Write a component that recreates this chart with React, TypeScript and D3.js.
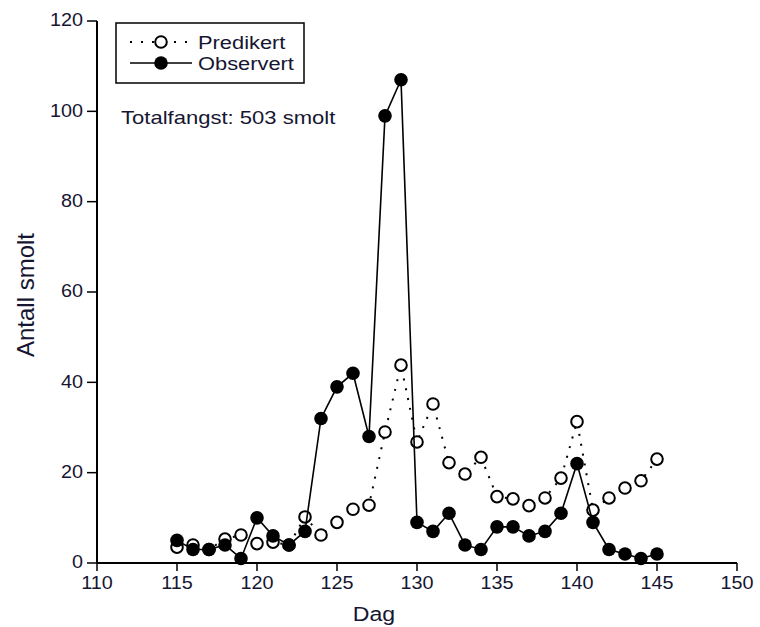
import React from "react";
import * as d3 from "d3";

const days = [115,116,117,118,119,120,121,122,123,124,125,126,127,128,129,130,131,132,133,134,135,136,137,138,139,140,141,142,143,144,145];
const observert = [5,3,3,4,1,10,6,4,7,32,39,42,28,99,107,9,7,11,4,3,8,8,6,7,11,22,9,3,2,1,2];
const predikert = [3.5,4,3,5.3,6.2,4.3,4.6,4,10.2,6.2,9,11.9,12.8,29,43.8,26.8,35.2,22.2,19.7,23.4,14.7,14.2,12.7,14.4,18.8,31.3,11.7,14.4,16.6,18.2,23];
const xTicks = [110,115,120,125,130,135,140,145,150];
const yTicks = [0,20,40,60,80,100,120];

const W = 760, H = 627;
const FONT = "Liberation Sans, Arial, sans-serif";
const TXT = "#161632";

function T({ x, y, size, sx = 1.12, anchor = "start", children }: any) {
  return (
    <text transform={`translate(${x},${y}) scale(${sx},1)`} dy="0.35em" textAnchor={anchor} fontSize={size} fill={TXT}>
      {children}
    </text>
  );
}

export default function App() {
  const x = d3.scaleLinear().domain([110, 150]).range([97, 737]);
  const y = d3.scaleLinear().domain([0, 120]).range([563, 21]);
  const line = d3.line<number>().x((_, i) => x(days[i])).y(d => y(d));

  return (
    <svg width={W} height={H} style={{ position: "absolute", left: 0, top: 0, background: "#fff" }} fontFamily={FONT}>
      {/* axes */}
      <line x1={x(110)} x2={x(110)} y1={y(120)} y2={y(0)} stroke="#000" strokeWidth={2} />
      <line x1={x(110)} x2={x(150)} y1={y(0)} y2={y(0)} stroke="#000" strokeWidth={2} />
      {yTicks.map(t => (
        <g key={"y" + t}>
          <line x1={x(110) - 10} x2={x(110)} y1={y(t)} y2={y(t)} stroke="#000" strokeWidth={1.5} />
          <T x={x(110) - 14} y={y(t) - 1} size={18} sx={1.1} anchor="end">{t}</T>
        </g>
      ))}
      {xTicks.map(t => (
        <g key={"x" + t}>
          <line x1={x(t)} x2={x(t)} y1={y(0)} y2={y(0) + 8} stroke="#000" strokeWidth={1.5} />
          <T x={x(t)} y={583} size={18} sx={1.1} anchor="middle">{t}</T>
        </g>
      ))}
      <T x={x(130) - 43} y={614} size={21} sx={1.1} anchor="middle">Dag</T>
      <text transform="translate(26,295) rotate(-90)" dy="0.35em" textAnchor="middle" fontSize={24} fill={TXT}>Antall smolt</text>

      {/* predicted */}
      <path d={line(predikert) || ""} fill="none" stroke="#000" strokeWidth={2} strokeDasharray="2 8" />
      {predikert.map((v, i) => (
        <circle key={"p" + i} cx={x(days[i])} cy={y(v)} r={5.8} fill="#fff" stroke="#000" strokeWidth={2} />
      ))}
      {/* observed */}
      <path d={line(observert) || ""} fill="none" stroke="#000" strokeWidth={1.6} />
      {observert.map((v, i) => (
        <circle key={"o" + i} cx={x(days[i])} cy={y(v)} r={6.8} fill="#000" />
      ))}

      {/* legend */}
      <rect x={116} y={23} width={188} height={60} fill="#fff" stroke="#000" strokeWidth={1.5} />
      <line x1={130} x2={192} y1={42} y2={42} stroke="#000" strokeWidth={2} strokeDasharray="2 9" />
      <circle cx={161} cy={42} r={5.8} fill="#fff" stroke="#000" strokeWidth={2} />
      <T x={198} y={42} size={19} sx={1.15}>Predikert</T>
      <line x1={130} x2={192} y1={63} y2={63} stroke="#000" strokeWidth={1.6} />
      <circle cx={161} cy={63} r={6.8} fill="#000" />
      <T x={198} y={63} size={19} sx={1.15}>Observert</T>

      <T x={121} y={117} size={19} sx={1.16}>Totalfangst: 503 smolt</T>
    </svg>
  );
}
